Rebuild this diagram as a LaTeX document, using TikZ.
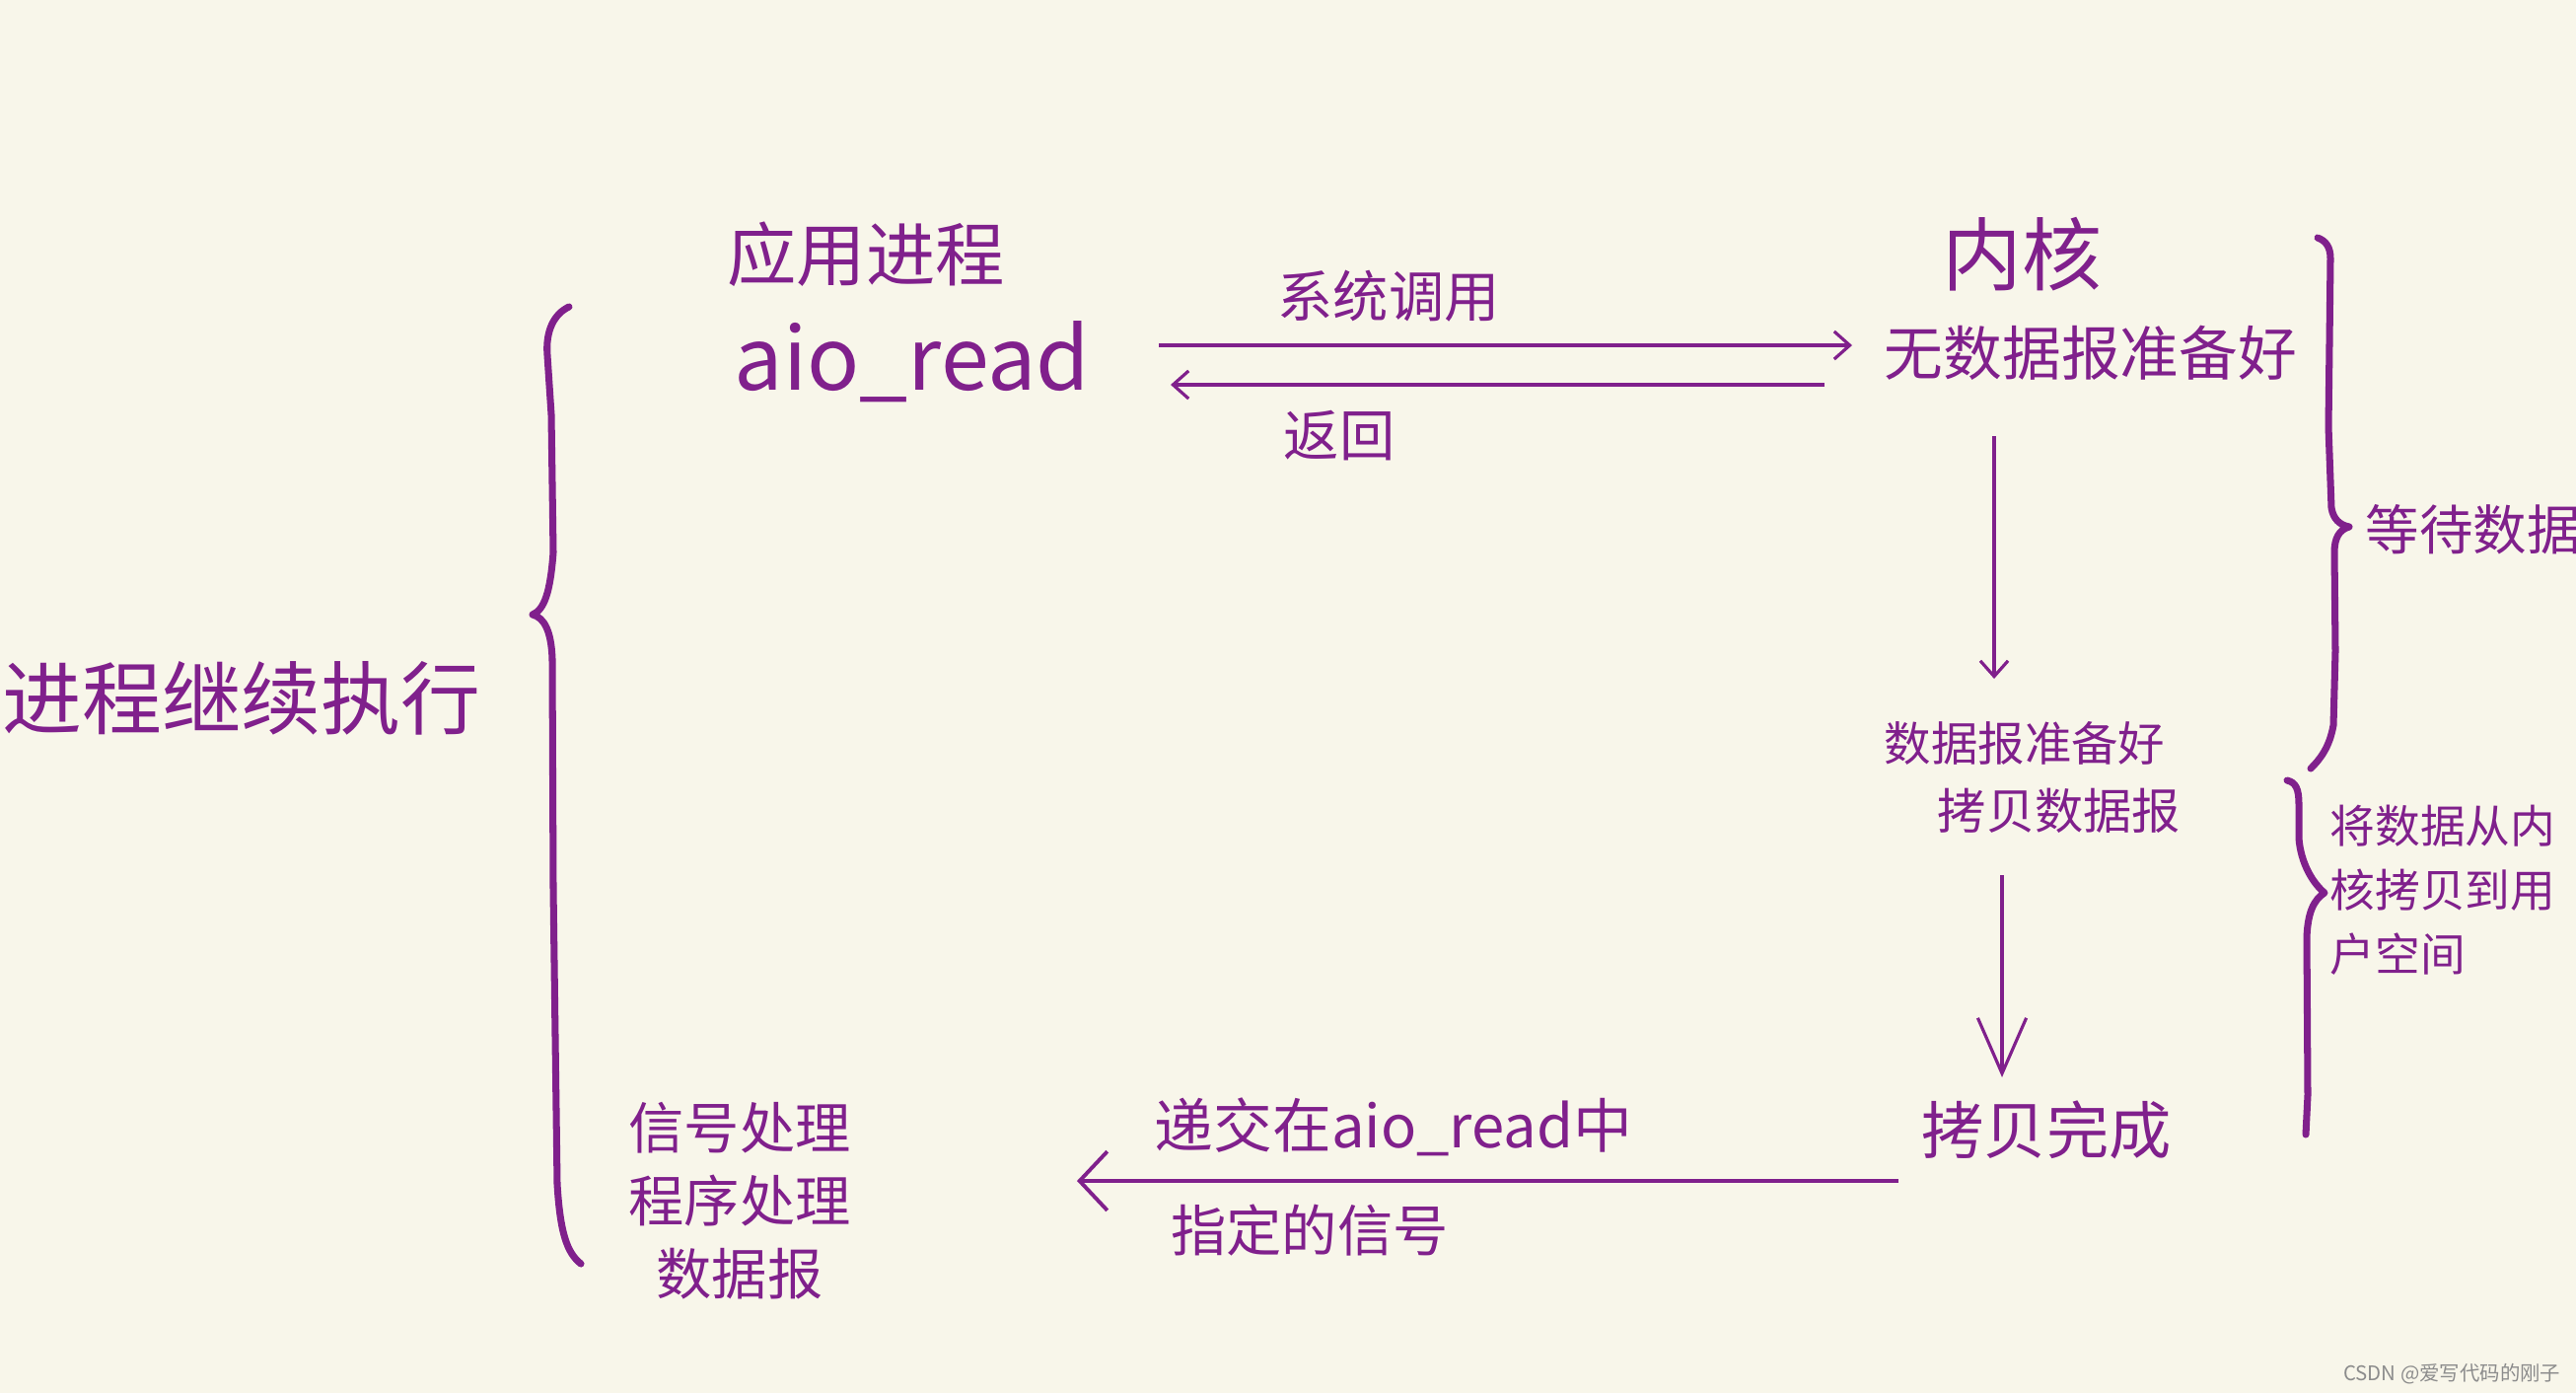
\documentclass[tikz,border=0pt]{standalone}
\usepackage{fontspec}
\setmainfont{Noto Sans CJK SC}
\usetikzlibrary{arrows.meta}
\definecolor{custom-purple}{RGB}{128, 32, 140}
\definecolor{custom-paper}{RGB}{248, 246, 234}
\definecolor{custom-grey}{RGB}{140, 140, 140}
\tikzset{
  txt/.style={text=custom-purple, inner sep=0pt},
  flow/.style={draw=custom-purple, line width=0.9pt, -{Straight Barb[length=4.5pt, width=8pt]}},
  brace/.style={draw=custom-purple, line width=2pt, line cap=round, line join=round},
}
\newcommand{\fsz}[1]{\fontsize{#1pt}{1.2\dimexpr#1pt\relax}\selectfont}

\begin{document}
\begin{tikzpicture}[x=0.01cm, y=-0.01cm]
\fill[custom-paper] (0,0) rectangle (2612,1412);
\useasboundingbox (0,0) rectangle (2612,1412);

% user side
\node[txt, font=\fsz{20}] (app) at (878,258) {应用进程};
\node[txt, font=\fsz{25}] (aio) at (925,367) {aio\_read};
\node[txt, font=\fsz{16}] (syscall) at (1408,300) {系统调用};
\node[txt, font=\fsz{16}] (ret) at (1358,442) {返回};

% kernel side
\node[txt, font=\fsz{23}] (kernel) at (2050,258) {内核};
\node[txt, font=\fsz{17}] (nodata) at (2120,358) {无数据报准备好};
\node[txt, font=\fsz{13.5}] (ready) at (2053,753) {数据报准备好};
\node[txt, font=\fsz{14}] (copy) at (2088,822) {拷贝数据报};
\node[txt, font=\fsz{18}] (done) at (2075,1145) {拷贝完成};

% signal
\node[txt, font=\fsz{17}] (deliver) at (1413,1142) {递交在aio\_read中};
\node[txt, font=\fsz{16}] (signal) at (1328,1247) {指定的信号};
\node[txt, font=\fontsize{16pt}{21pt}\selectfont, align=center] (handler) at (750,1217) {信号处理\\程序处理\\数据报};

% side notes
\node[txt, font=\fsz{23}] (cont) at (245,708) {进程继续执行};
\node[txt, font=\fsz{15.5}, anchor=west] (wait) at (2398,537) {等待数据};
\node[txt, font=\fontsize{13pt}{18.5pt}\selectfont, align=left, anchor=north west] (move) at (2362,815) {将数据从内\\核拷贝到用\\户空间};
\node[text=custom-grey, inner sep=0pt, font=\fsz{5.8}, anchor=east] (mark) at (2597,1393) {CSDN @爱写代码的刚子};

% connectors
\coordinate (sys-a) at (1175,350);
\coordinate (sys-b) at (1878,350);
\coordinate (ret-a) at (1850,390);
\coordinate (ret-b) at (1187,390);
\coordinate (wait-a) at (2022,442);
\coordinate (wait-b) at (2022,688);
\coordinate (copy-a) at (2030,887);
\coordinate (copy-b) at (2030,1092);
\coordinate (sig-a) at (1925,1197);
\coordinate (sig-b) at (1092,1197);
\draw[flow] (sys-a) -- (sys-b);
\draw[flow] (ret-a) -- (ret-b);
\draw[flow] (wait-a) -- (wait-b);
\draw[flow, -{Straight Barb[length=16pt, width=14pt]}] (copy-a) -- (copy-b);
\draw[flow, line width=1.1pt, -{Straight Barb[length=8pt, width=17pt]}] (sig-a) -- (sig-b);

% braces
\draw[brace] (577,311) .. controls (562,318) and (553,335) .. (555,360)
  -- (559,420) -- (561,560) .. controls (558,600) and (552,618) .. (540,623)
  .. controls (552,626) and (559,640) .. (560,668) -- (561,900) -- (565,1200)
  .. controls (568,1250) and (575,1270) .. (589,1281);
\draw[brace] (2350,241) .. controls (2358,244) and (2363,250) .. (2363,262)
  -- (2361,433) -- (2364,515) .. controls (2366,526) and (2372,532) .. (2382,534)
  .. controls (2372,537) and (2367,545) .. (2367,560) -- (2368,660)
  -- (2366,735) .. controls (2362,758) and (2352,770) .. (2343,779);
\draw[brace] (2319,791) .. controls (2328,793) and (2331,800) .. (2331,815)
  -- (2331,850) .. controls (2333,875) and (2345,895) .. (2357,905)
  .. controls (2346,912) and (2340,925) .. (2339,950) -- (2340,1110) -- (2338,1150);
\end{tikzpicture}
\end{document}
